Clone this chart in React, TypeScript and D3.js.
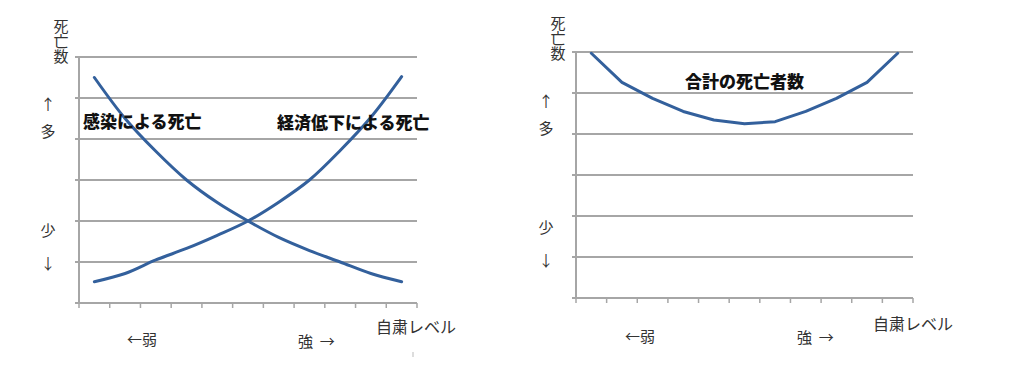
import * as d3 from "d3";

// 自粛レベル (11 steps, weak -> strong)
const levels = ["1", "2", "3", "4", "5", "6", "7", "8", "9", "10", "11"];
const gridValues = [0, 1, 2, 3, 4, 5, 6];

const infectionDeaths = [5.5, 4.5, 3.7, 3.0, 2.45, 2.0, 1.6, 1.28, 1.0, 0.72, 0.52];
const economicDeaths = [0.52, 0.72, 1.05, 1.33, 1.65, 2.0, 2.46, 3.0, 3.72, 4.53, 5.52];
const totalDeaths = [5.97, 5.26, 4.87, 4.55, 4.34, 4.25, 4.3, 4.55, 4.87, 5.26, 5.97];

const LINE = "#33609c";
const GRID = "#a6a6a6";
const FONT = "'Noto Sans CJK JP', 'Noto Sans', sans-serif";

interface Series {
    values: number[];
    curve: d3.CurveFactory;
}

interface Label {
    text: string;
    x: number;
    y: number;
    bold?: boolean;
    size?: number;
    anchor?: "start" | "middle" | "end";
    vertical?: boolean;
}

interface PanelProps {
    left: number;
    right: number;
    top: number;
    bottom: number;
    series: Series[];
    labels: Label[];
}

function Panel({ left, right, top, bottom, series, labels }: PanelProps) {
    const x = d3.scaleBand<string>().domain(levels).range([left, right]).padding(0);
    const y = d3.scaleLinear().domain([0, 6]).range([bottom, top]);
    const cx = (d: string) => (x(d) ?? 0) + x.bandwidth() / 2;

    const boundaries = levels.map((d) => x(d) ?? 0).concat([right]);

    return (
        <g>
            {gridValues.map((v) => (
                <line key={"g" + v} x1={left - 4} x2={right} y1={y(v)} y2={y(v)} stroke={GRID} strokeWidth={2} />
            ))}
            <line x1={left} x2={left} y1={top} y2={bottom} stroke={GRID} strokeWidth={2} />
            {boundaries.map((bx, i) => (
                <line key={"t" + i} x1={bx} x2={bx} y1={bottom} y2={bottom + 5} stroke={GRID} strokeWidth={1.5} />
            ))}
            {series.map((s, i) => {
                const line = d3
                    .line<number>()
                    .x((_, j) => cx(levels[j]))
                    .y((v) => y(v))
                    .curve(s.curve);
                return (
                    <path key={"s" + i} d={line(s.values) ?? ""} fill="none" stroke={LINE} strokeWidth={3} strokeLinecap="round" strokeLinejoin="round" />
                );
            })}
            {labels.map((l, i) => (
                <text
                    key={"l" + i}
                    x={l.x}
                    y={l.y}
                    textAnchor={l.anchor ?? "middle"}
                    dominantBaseline={l.vertical ? undefined : "central"}
                    fontFamily={FONT}
                    fontSize={l.size ?? 15}
                    fontWeight={l.bold ? 900 : 400}
                    fill={l.bold ? "#111" : "#333"}
                    style={{ whiteSpace: "pre", writingMode: l.vertical ? "vertical-rl" : undefined }}
                >
                    {l.text}
                </text>
            ))}
        </g>
    );
}

function axisLabels(dx: number, yaxisX: number, yOff: number): Label[] {
    return [
        { text: "死亡数", x: yaxisX, y: 19 + yOff, anchor: "start", vertical: true },
        { text: "↑", x: 48 + dx, y: 103 + yOff },
        { text: "多", x: 48 + dx, y: 130 + yOff },
        { text: "少", x: 48 + dx, y: 229 + yOff },
        { text: "↓", x: 48 + dx, y: 262 + yOff },
    ];
}

export default function App() {
    const leftLabels: Label[] = [
        ...axisLabels(0, 61, 0),
        { text: "感染による死亡", x: 83, y: 120, bold: true, size: 17, anchor: "start" },
        { text: "経済低下による死亡", x: 277, y: 121, bold: true, size: 17, anchor: "start" },
        { text: "←弱", x: 127, y: 338, anchor: "start" },
        { text: "強  →", x: 298, y: 340, anchor: "start" },
        { text: "自粛レベル", x: 376, y: 326, size: 16, anchor: "start" },
    ];
    const rightLabels: Label[] = [
        ...axisLabels(498, 558, -3),
        { text: "合計の死亡者数", x: 685, y: 80, bold: true, size: 17, anchor: "start" },
        { text: "←弱", x: 625, y: 335, anchor: "start" },
        { text: "強  →", x: 797, y: 336, anchor: "start" },
        { text: "自粛レベル", x: 873, y: 323, size: 16, anchor: "start" },
    ];

    return (
        <svg width={1024} height={368} style={{ position: "absolute", left: 0, top: 0, background: "#fff" }}>
            <Panel
                left={79}
                right={417}
                top={57}
                bottom={303}
                series={[
                    { values: infectionDeaths, curve: d3.curveCatmullRom },
                    { values: economicDeaths, curve: d3.curveCatmullRom },
                ]}
                labels={leftLabels}
            />
            <Panel
                left={576}
                right={913}
                top={52}
                bottom={298}
                series={[{ values: totalDeaths, curve: d3.curveLinear }]}
                labels={rightLabels}
            />
            <line x1={413} x2={413} y1={352} y2={357} stroke="#bbb" strokeWidth={1} />
        </svg>
    );
}
